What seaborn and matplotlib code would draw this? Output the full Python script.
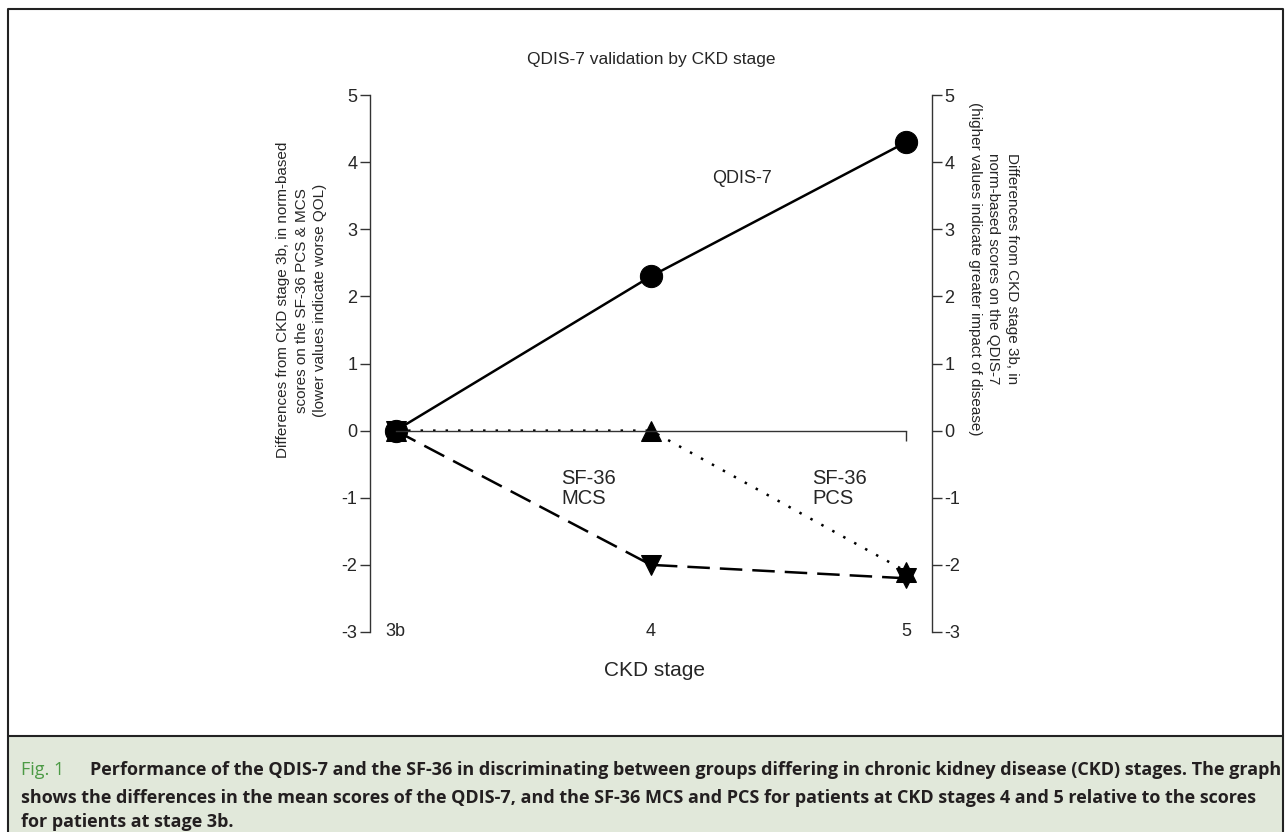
import numpy as np
import pandas as pd
import seaborn as sns
import matplotlib.pyplot as plt
from matplotlib import font_manager
from matplotlib.patches import Rectangle
from matplotlib.lines import Line2D

# values (differences from stage 3b)
stages = ["3b", "4", "5"]
qdis7 = [0.0, 2.3, 4.3]
sf36_mcs = [0.0, -2.0, -2.2]
sf36_pcs = [0.0, 0.0, -2.1]
yticks = [-3, -2, -1, 0, 1, 2, 3, 4, 5]

sns.set_style("ticks")
plt.rcParams["font.family"] = ["Liberation Sans", "DejaVu Sans"]


def pick_font(names):
    for n in names:
        try:
            font_manager.findfont(n, fallback_to_default=False)
            return n
        except Exception:
            pass
    return "DejaVu Sans"


cap_font = pick_font(["Liberation Sans Narrow", "Open Sans", "DejaVu Sans"])

fig = plt.figure(figsize=(12.85, 8.32), dpi=100)
W, H = 1285, 832
ax = fig.add_axes([370 / W, 1 - 632 / H, 562 / W, 537 / H])

sns.lineplot(x=stages, y=qdis7, ax=ax, color="black", lw=1.8, marker="o",
             markersize=16, markeredgecolor="black", sort=False)
sns.lineplot(x=stages, y=sf36_mcs, ax=ax, color="black", lw=1.8, marker="v",
             markersize=14, markeredgecolor="black", linestyle=(0, (9, 4)), sort=False)
sns.lineplot(x=stages, y=sf36_pcs, ax=ax, color="black", lw=1.8, marker="^",
             markersize=14, markeredgecolor="black", linestyle=(0, (1, 4)), sort=False)

ax.set_xlim(-0.1, 2.1)
ax.set_ylim(-3, 5)
ax.set_yticks(yticks)
ax.set_yticklabels([str(t) for t in yticks])

# x axis drawn through zero
for s in ["top", "right"]:
    ax.spines[s].set_visible(False)
ax.spines["bottom"].set_position(("data", 0))
ax.spines["bottom"].set_bounds(0, 2)
ax.spines["left"].set_bounds(-3, 5)
for s in ["left", "bottom"]:
    ax.spines[s].set_linewidth(1.0)
    ax.spines[s].set_color("#333333")
ax.tick_params(axis="x", labelbottom=False, direction="out", length=7, width=1.0, color="#333333")
ax.tick_params(axis="y", direction="out", length=7, width=1.0, color="#333333",
               labelsize=13, pad=2)
for s in stages:
    ax.text(s, -3, s, ha="center", va="center", fontsize=13)

ax2 = ax.twinx()
ax2.set_ylim(-3, 5)
ax2.set_yticks(yticks)
ax2.set_yticklabels([str(t) for t in yticks])
for s in ["top", "left", "bottom"]:
    ax2.spines[s].set_visible(False)
ax2.spines["right"].set_linewidth(1.0)
ax2.spines["right"].set_color("#333333")
ax2.tick_params(axis="y", direction="out", length=7, width=1.0, color="#333333",
                labelsize=13, pad=2)

ax.set_ylabel("Differences from CKD stage 3b, in norm-based\n"
              "scores on the SF-36 PCS & MCS\n"
              "(lower values indicate worse QOL)", fontsize=11, linespacing=1.4)
ax.yaxis.set_label_coords(-0.0765, 0.618)
ax2.set_ylabel("Differences from CKD stage 3b, in\n"
               "norm-based scores on the QDIS-7\n"
               "(higher values indicate greater impact of disease)",
               fontsize=11, rotation=270, va="bottom", linespacing=1.4)
ax2.yaxis.set_label_coords(1.064, 0.676)
ax.set_xlabel("")
fig.text(655 / W, 1 - 670 / H, "CKD stage", ha="center", va="center", fontsize=15)
ax.set_title("QDIS-7 validation by CKD stage", fontsize=12.5, pad=22)

ax.text(1.24, 3.75, "QDIS-7", fontsize=13, ha="left", va="center")
ax.text(0.65, -0.86, "SF-36\nMCS", fontsize=14.5, ha="left", va="center", linespacing=1.1)
ax.text(1.63, -0.86, "SF-36\nPCS", fontsize=14.5, ha="left", va="center", linespacing=1.1)

# outer frame and caption panel
fig.patches.append(Rectangle((8 / W, 0), 1 - 10 / W, 96 / H, transform=fig.transFigure,
                             facecolor="#e1e8da", edgecolor="none", zorder=0))
fig.lines.append(Line2D([8 / W, 8 / W, 1 - 2 / W, 1 - 2 / W], [0, 1 - 9 / H, 1 - 9 / H, 0],
                        transform=fig.transFigure, color="#222222", lw=1.5))
fig.lines.append(Line2D([8 / W, 1 - 2 / W], [96 / H, 96 / H], transform=fig.transFigure,
                        color="#222222", lw=1.5))

cap1 = ("Performance of the QDIS-7 and the SF-36 in discriminating between groups differing "
        "in chronic kidney disease (CKD) stages. The graph")
cap2 = ("shows the differences in the mean scores of the QDIS-7, and the SF-36 MCS and PCS "
        "for patients at CKD stages 4 and 5 relative to the scores")
cap3 = "for patients at stage 3b."

fig_lbl = fig.text(21 / W, 1 - 770 / H, "Fig. 1", color="#4c9a45", fontsize=13,
                   family=cap_font, va="center", ha="left")
t1 = fig.text(90 / W, 1 - 770 / H, cap1, color="#231f20", fontsize=13, family=cap_font,
              weight="bold", va="center", ha="left")
t2 = fig.text(21 / W, 1 - 798 / H, cap2, color="#231f20", fontsize=13, family=cap_font,
              weight="bold", va="center", ha="left")
t3 = fig.text(21 / W, 1 - 822 / H, cap3, color="#231f20", fontsize=13, family=cap_font,
              weight="bold", va="center", ha="left")

# scale caption size so the long lines end at the panel edge like the original
fig.canvas.draw()
r = fig.canvas.get_renderer()
k1 = (1279 - 90) / t1.get_window_extent(r).width
k2 = (1279 - 21) / t2.get_window_extent(r).width
fs = 13 * min(k1, k2)
for t in [fig_lbl, t1, t2, t3]:
    t.set_fontsize(fs)

fig.savefig("out.png", dpi=100)
